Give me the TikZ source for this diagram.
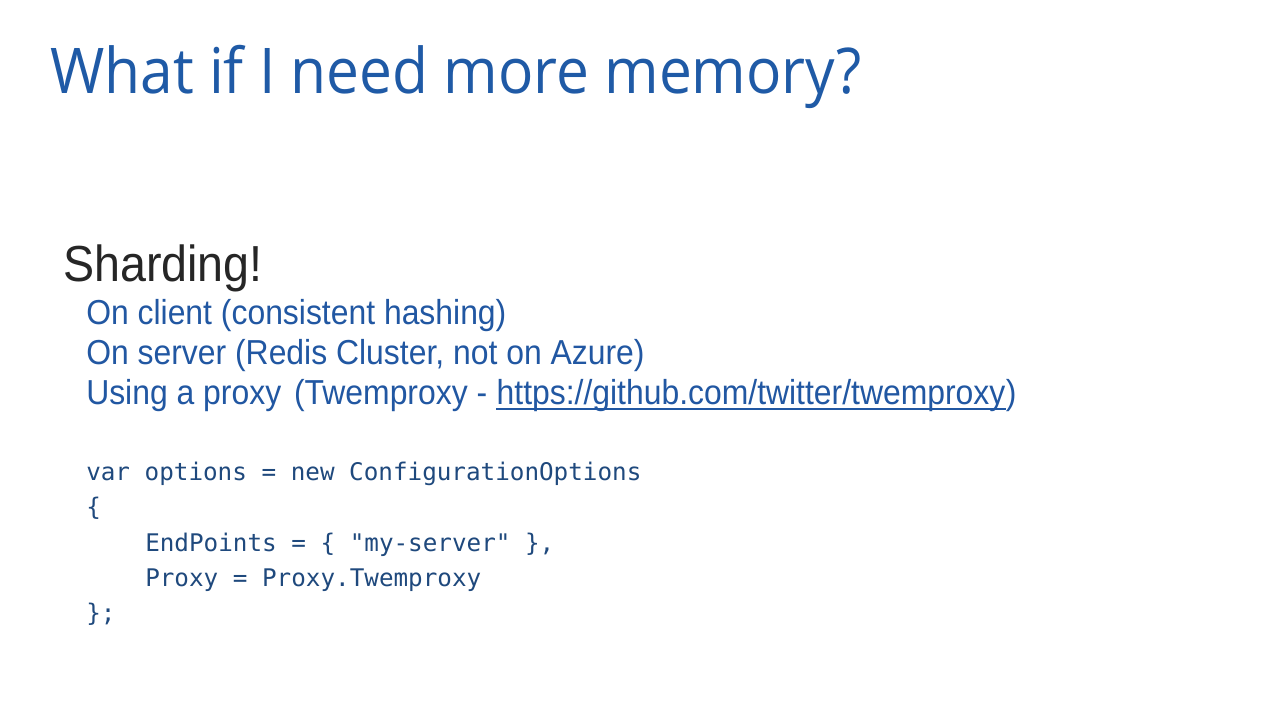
\documentclass[tikz,border=0pt]{standalone}
\usepackage{fontspec}
\setmainfont{Liberation Sans}
\newfontfamily\titlefont[FakeStretch=0.93]{Open Sans}
\newfontfamily\bodyfont[FakeStretch=0.92]{Liberation Sans}
\newfontfamily\codefont{DejaVu Sans Mono}

\definecolor{titleblue}{RGB}{31,90,166}
\definecolor{textblue}{RGB}{33,87,162}
\definecolor{codeblue}{RGB}{31,73,125}
\definecolor{darktext}{RGB}{38,38,38}

\begin{document}
\begin{tikzpicture}[x=0.75pt, y=-0.75pt,
  txt/.style={anchor=base west, inner sep=0pt},
  head/.style={txt, text=titleblue, font=\titlefont\fontsize{47.3}{56}\selectfont},
  lead/.style={txt, text=darktext, font=\bodyfont\fontsize{38}{44}\selectfont},
  item/.style={txt, text=textblue, font=\bodyfont\fontsize{26}{32}\selectfont},
  code/.style={txt, text=codeblue, font=\codefont\fontsize{18.2}{22}\selectfont}]
  \fill[white] (0,0) rectangle (1280,720);
  \useasboundingbox (0,0) rectangle (1280,720);

  \node (title) at (50,94) [head] {What if I need more memory?};

  %% bullets
  \node (shard) at (63,281) [lead] {Sharding!};
  \node (cli) at (86,324) [item] {On client (consistent hashing)};
  \node (srv) at (86,364) [item] {On server (Redis Cluster, not on Azure)};
  \node (prx) at (86,404) [item] {Using a proxy\ \hspace{3pt}(Twemproxy -\ \mbox{}};
  \node (url) at (prx.base east) [item] {https://github.com/twitter/twemproxy};
  \node (cls) at (url.base east) [item] {)};
  \draw[textblue, line width=1.5] ([yshift=-3.5pt]url.base west) -- ([yshift=-3.5pt]url.base east);

  %% code sample
  \node (c1) at (86,480) [code] {var options = new ConfigurationOptions};
  \node (c2) at (86,515) [code] {\{};
  \node (c3) at (145,551) [code] {EndPoints = \{ "my-server" \},};
  \node (c4) at (145,586) [code] {Proxy = Proxy.Twemproxy};
  \node (c5) at (86,621) [code] {\};};
\end{tikzpicture}
\end{document}
